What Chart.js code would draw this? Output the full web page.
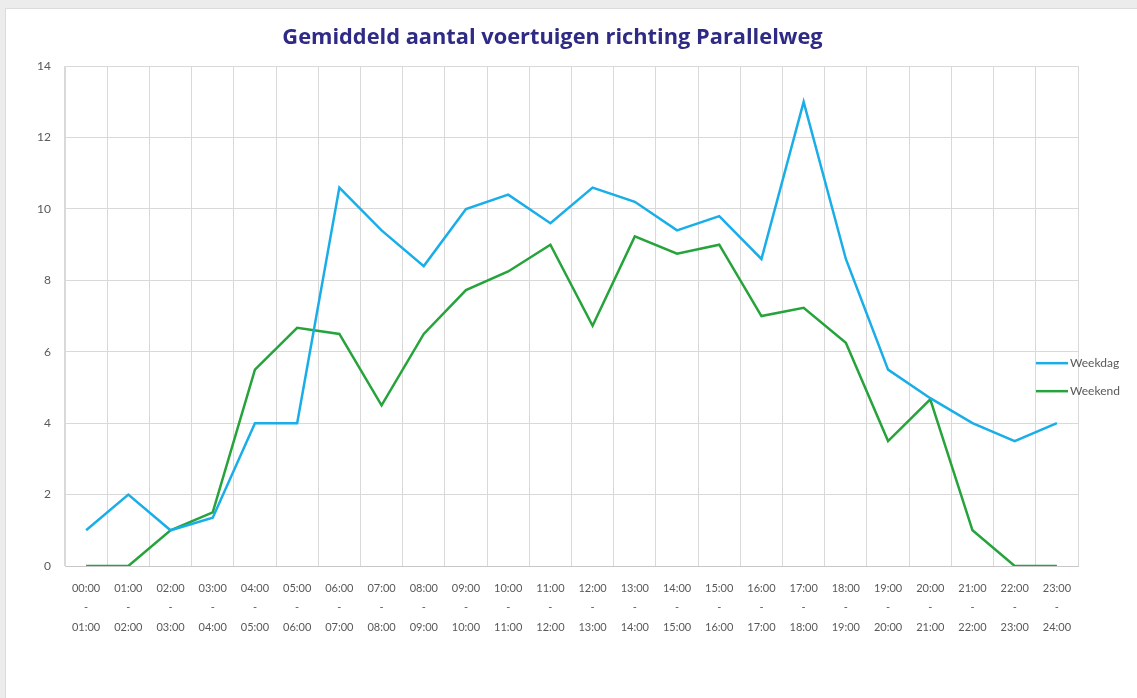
<!DOCTYPE html>
<html>
<head>
<meta charset="utf-8">
<script src="https://cdn.jsdelivr.net/npm/chart.js@4/dist/chart.umd.min.js"></script>
<style>
  html, body { margin: 0; padding: 0; background: #ececec; }
  #card { position: absolute; left: 5px; top: 8px; right: 0; bottom: 0; background: #fff;
          border-left: 1px solid #dcdcdc; border-top: 1px solid #dcdcdc; }
  #wrap { position: absolute; left: 0; top: 0; width: 1137px; height: 698px; }
</style>
</head>
<body>
<div id="card"></div>
<div id="wrap"><canvas id="verkeerChart" width="1137" height="698"></canvas></div>
<script>
const uren = ['00:00', '01:00', '02:00', '03:00', '04:00', '05:00', '06:00', '07:00', '08:00', '09:00', '10:00', '11:00',
  '12:00', '13:00', '14:00', '15:00', '16:00', '17:00', '18:00', '19:00', '20:00', '21:00', '22:00', '23:00', '24:00'];
const labels = uren.slice(0, 24).map((u, i) => [u, '-', uren[i + 1]]);

const weekdag = [1, 2, 1, 1.35, 4, 4, 10.6, 9.4, 8.4, 10, 10.4, 9.6,
  10.6, 10.2, 9.4, 9.8, 8.6, 13, 8.6, 5.5, 4.7, 4, 3.5, 4];
const weekend = [0, 0, 1, 1.5, 5.5, 6.67, 6.5, 4.5, 6.5, 7.73, 8.25, 9,
  6.73, 9.23, 8.75, 9, 7, 7.23, 6.25, 3.5, 4.67, 1, 0, 0];

const grijs = '#595959';
const rasterKleur = '#d9d9d9';

// legend sits on top of the plot area at the right, like the Excel original
const legendeRechts = {
  id: 'legendeRechts',
  afterDatasetsDraw(chart) {
    const { ctx, chartArea } = chart;
    ctx.save();
    chart.data.datasets.forEach((ds, i) => {
      const y = chartArea.top + 297 + i * 28;
      ctx.strokeStyle = ds.borderColor;
      ctx.lineWidth = 2.5;
      ctx.beginPath();
      ctx.moveTo(chartArea.right - 42, y);
      ctx.lineTo(chartArea.right - 10, y);
      ctx.stroke();
      ctx.fillStyle = grijs;
      ctx.font = '12px Lato';
      ctx.textBaseline = 'middle';
      ctx.fillText(ds.label, chartArea.right - 8, y);
    });
    ctx.restore();
  }
};

const ctx = document.getElementById('verkeerChart').getContext('2d');
new Chart(ctx, {
  type: 'line',
  data: {
    labels: labels,
    datasets: [
      { label: 'Weekdag', data: weekdag, borderColor: '#1aaee8', borderWidth: 2.5,
        pointRadius: 0, tension: 0, fill: false },
      { label: 'Weekend', data: weekend, borderColor: '#26a33b', borderWidth: 2.5,
        pointRadius: 0, tension: 0, fill: false }
    ]
  },
  options: {
    responsive: false,
    animation: false,
    layout: { padding: { left: 27, right: 59, top: 0, bottom: 0 } },
    plugins: {
      legend: { display: false },
      tooltip: { enabled: false },
      title: {
        display: true,
        text: 'Gemiddeld aantal voertuigen richting Parallelweg',
        color: '#2e2a85',
        font: { family: 'Open Sans', size: 21.8, weight: 'bold', lineHeight: 1.2 },
        padding: { top: 25, bottom: 15 }
      }
    },
    scales: {
      x: {
        offset: true,
        grid: { offset: true, color: rasterKleur, drawTicks: false },
        border: { color: '#c8c8c8' },
        ticks: {
          color: grijs, font: { family: 'Lato', size: 11, lineHeight: 1.75 },
          padding: 13, autoSkip: false, maxRotation: 0
        },
        afterFit(scale) { scale.height = 132; }
      },
      y: {
        min: 0, max: 14,
        grid: { color: rasterKleur, drawTicks: false },
        border: { color: rasterKleur },
        ticks: { stepSize: 2, color: grijs, font: { family: 'Lato', size: 12 }, padding: 14 },
        afterFit(scale) { scale.width = 38; }
      }
    }
  },
  plugins: [legendeRechts]
});
</script>
</body>
</html>
